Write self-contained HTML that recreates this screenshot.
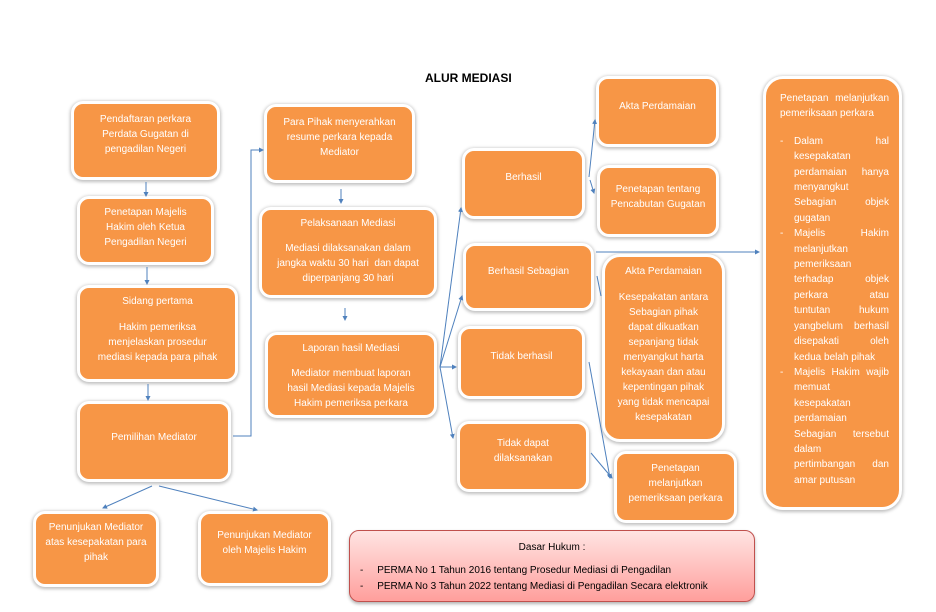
<!DOCTYPE html>
<html><head><meta charset="utf-8"><style>
body{margin:0;background:#fff;}
#c{position:relative;width:936px;height:612px;overflow:hidden;font-family:"Liberation Sans",sans-serif;}
.b{position:absolute;box-sizing:border-box;background:#F79646;border:3px solid #fff;border-radius:12px;box-shadow:0 1px 3px 1px rgba(0,0,0,.25);color:#fff;font-size:10px;line-height:15px;text-align:center;padding-top:8px;}
.t{position:absolute;font-weight:bold;font-size:12px;}
svg{position:absolute;left:0;top:0;}
.r{text-align:justify;padding:10px 10px 0 14px;line-height:15.4px;}
.r ul{margin:12px 0 0;padding:0;list-style:none;}
.r li{position:relative;padding-left:14px;text-align:justify;}
.r li:before{content:"-";position:absolute;left:0;}
</style></head><body><div id="c">
<div class="t" style="left:425px;top:71px;">ALUR MEDIASI</div>

<div class="b" style="left:71px;top:101px;width:149px;height:79px;">Pendaftaran perkara<br>Perdata Gugatan di<br>pengadilan Negeri</div>
<div class="b" style="left:77px;top:196px;width:137px;height:69px;padding-top:6px;">Penetapan Majelis<br>Hakim oleh Ketua<br>Pengadilan Negeri</div>
<div class="b" style="left:77px;top:285px;width:161px;height:97px;padding-top:6px;">Sidang pertama<br><div style="height:11px"></div>Hakim pemeriksa<br>menjelaskan prosedur<br>mediasi kepada para pihak</div>
<div class="b" style="left:77px;top:401px;width:154px;height:81px;padding-top:26px;">Pemilihan Mediator</div>
<div class="b" style="left:33px;top:511px;width:126px;height:76px;padding-top:6px;">Penunjukan Mediator<br>atas kesepakatan para<br>pihak</div>
<div class="b" style="left:198px;top:511px;width:133px;height:75px;padding-top:14px;">Penunjukan Mediator<br>oleh Majelis Hakim</div>

<div class="b" style="left:264px;top:104px;width:151px;height:79px;">Para Pihak menyerahkan<br>resume perkara kepada<br>Mediator</div>
<div class="b" style="left:259px;top:207px;width:178px;height:91px;padding-top:6px;">Pelaksanaan Mediasi<br><div style="height:10px"></div>Mediasi dilaksanakan dalam<br>jangka waktu 30 hari&nbsp; dan dapat<br>diperpanjang 30 hari</div>
<div class="b" style="left:265px;top:332px;width:172px;height:86px;padding-top:6px;">Laporan hasil Mediasi<br><div style="height:10px"></div>Mediator membuat laporan<br>hasil Mediasi kepada Majelis<br>Hakim pemeriksa perkara</div>

<div class="b" style="left:462px;top:148px;width:123px;height:71px;padding-top:19px;">Berhasil</div>
<div class="b" style="left:463px;top:243px;width:131px;height:68px;padding-top:18px;">Berhasil Sebagian</div>
<div class="b" style="left:458px;top:326px;width:127px;height:73px;padding-top:20px;">Tidak berhasil</div>
<div class="b" style="left:457px;top:421px;width:132px;height:71px;padding-top:12px;">Tidak dapat<br>dilaksanakan</div>

<div class="b" style="left:596px;top:76px;width:123px;height:71px;padding-top:20px;">Akta Perdamaian</div>
<div class="b" style="left:597px;top:165px;width:122px;height:72px;padding-top:14px;">Penetapan tentang<br>Pencabutan Gugatan</div>
<div class="b" style="left:602px;top:254px;width:123px;height:188px;border-radius:18px;padding-top:7px;">Akta Perdamaian<br><div style="height:11px"></div>Kesepakatan antara<br>Sebagian pihak<br>dapat dikuatkan<br>sepanjang tidak<br>menyangkut harta<br>kekayaan dan atau<br>kepentingan pihak<br>yang tidak mencapai<br>kesepakatan</div>
<div class="b" style="left:614px;top:451px;width:123px;height:72px;padding-top:7px;">Penetapan<br>melanjutkan<br>pemeriksaan perkara</div>

<div class="b r" style="left:763px;top:76px;width:139px;height:434px;border-radius:20px;padding-top:12px;">Penetapan melanjutkan pemeriksaan perkara
<ul><li>Dalam hal kesepakatan perdamaian hanya menyangkut Sebagian objek gugatan</li><li>Majelis Hakim melanjutkan pemeriksaan terhadap objek perkara atau tuntutan hukum yangbelum berhasil disepakati oleh kedua belah pihak</li><li>Majelis Hakim wajib memuat kesepakatan perdamaian Sebagian tersebut dalam<br>pertimbangan dan amar putusan</li></ul></div>

<div style="position:absolute;left:349px;top:530px;width:406px;height:72px;box-sizing:border-box;border:1px solid #c0504d;border-radius:10px;background:linear-gradient(#ffe4e3,#ff9f9c);box-shadow:0 2px 3px rgba(0,0,0,.3);font-size:10px;line-height:16px;color:#000;">
<div style="text-align:center;margin-top:9px;">Dasar Hukum :</div>
<div style="margin-top:7px;padding-left:10px;">-&nbsp;&nbsp;&nbsp;&nbsp;&nbsp;PERMA No 1 Tahun 2016 tentang Prosedur Mediasi di Pengadilan</div>
<div style="padding-left:10px;">-&nbsp;&nbsp;&nbsp;&nbsp;&nbsp;PERMA No 3 Tahun 2022 tentang Mediasi di Pengadilan Secara elektronik</div>
</div>

<svg width="936" height="612" viewBox="0 0 936 612">
<defs><marker id="a" markerWidth="5" markerHeight="5" refX="4" refY="2.5" orient="auto"><path d="M0,0L5,2.5L0,5z" fill="#4f81bd"/></marker></defs>
<g stroke="#4f81bd" stroke-width="1" fill="none" marker-end="url(#a)">
<path d="M146,182V196"/><path d="M147,267V284"/><path d="M148,384V400"/>
<path d="M233,436H251V150H263"/>
<path d="M152,486L103,508"/><path d="M159,486L257,510"/>
<path d="M341,189V203"/><path d="M345,308V320"/>
<path d="M440,367L461,208"/><path d="M440,367L462,296"/><path d="M440,367L456,367"/><path d="M440,367L453,438"/>
<path d="M589,177L595,120"/><path d="M590,180L594,193"/>
<path d="M596,252H759"/>
<path d="M589,362L610,478"/><path d="M591,453L612,478"/>
</g>
<path d="M597,276L601,296" stroke="#4f81bd" fill="none"/>
</svg>
</div></body></html>
